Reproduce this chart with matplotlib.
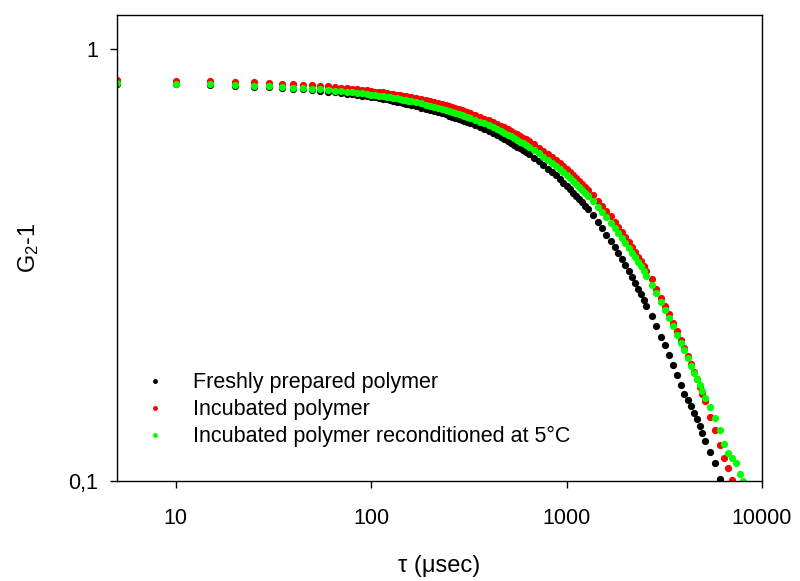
import matplotlib
matplotlib.use("Agg")
import matplotlib.pyplot as plt
from matplotlib.ticker import FixedLocator, FixedFormatter, NullLocator

plt.rcParams['font.family'] = ['Liberation Sans', 'DejaVu Sans']
plt.rcParams['mathtext.fontset'] = 'custom'
plt.rcParams['mathtext.rm'] = 'Liberation Sans'
plt.rcParams['mathtext.it'] = 'Liberation Sans'

# correlator delay times (usec)
tau = [5, 10, 15, 20, 25, 30, 35, 40, 45, 50, 55, 60, 65, 70, 75, 80,
       85, 90, 95, 100, 105, 110, 115, 120, 125, 130, 135, 140, 145, 150, 155, 160,
       170, 180, 190, 200, 210, 220, 230, 240, 250, 260, 270, 280, 290, 300, 310, 320,
       340, 360, 380, 400, 420, 440, 460, 480, 500, 520, 540, 560, 580, 600, 620, 640,
       680, 720, 760, 800, 840, 880, 920, 960, 1000, 1040, 1080, 1120, 1160, 1200, 1240, 1280,
       1360, 1440, 1520, 1600, 1680, 1760, 1840, 1920, 2000, 2080, 2160, 2240, 2320, 2400, 2480, 2560,
       2720, 2880, 3040, 3200, 3360, 3520, 3680, 3840, 4000, 4160, 4320, 4480, 4640, 4800, 4960, 5120,
       5440, 5760, 6080, 6400, 6720, 7040, 7360, 7680, 8000]

fresh = [.832, .829, .826, .823, .819, .817, .813, .810, .808, .804, .802, .798, .795, .793, .789, .787,
         .784, .781, .778, .775, .773, .770, .767, .765, .761, .759, .756, .753, .750, .748, .745, .742,
         .737, .732, .728, .723, .719, .715, .710, .706, .702, .698, .694, .690, .686, .682, .678, .675,
         .667, .660, .653, .646, .639, .632, .626, .619, .613, .607, .601, .595, .589, .583, .577, .572,
         .561, .550, .540, .529, .520, .510, .501, .491, .483, .474, .465, .458, .449, .442, .434, .426,
         .412, .398, .385, .372, .360, .349, .337, .327, .316, .307, .297, .288, .279, .271, .262, .254,
         .241, .228, .216, .206, .196, .186, .176, .167, .159, .154, .149, .144, .139, .134, .129, .124,
         .117, .110, .101, .095, .090, .085, .080, .076, .072]

incubated = [.848, .845, .843, .840, .838, .835, .832, .830, .827, .825, .822, .820, .817, .815, .812, .810,
             .808, .805, .803, .801, .798, .796, .794, .791, .789, .787, .785, .782, .780, .778, .776, .774,
             .770, .765, .761, .757, .753, .749, .745, .741, .737, .733, .730, .726, .722, .719, .715, .712,
             .704, .698, .691, .684, .678, .671, .665, .659, .652, .646, .641, .635, .629, .624, .618, .613,
             .602, .592, .582, .572, .563, .553, .544, .536, .527, .519, .511, .503, .495, .488, .480, .473,
             .459, .446, .434, .421, .410, .398, .388, .377, .367, .358, .349, .340, .331, .323, .315, .307,
             .293, .279, .266, .254, .243, .232, .222, .212, .203, .195, .187, .179, .172, .165, .159, .153,
             .141, .131, .121, .113, .107, .1005, .094, .089, .084]

recond = [.834, .831, .829, .826, .823, .821, .818, .815, .813, .810, .808, .805, .802, .800, .797, .795,
          .792, .790, .787, .785, .783, .780, .778, .776, .773, .771, .769, .766, .764, .762, .760, .757,
          .753, .749, .744, .740, .736, .732, .728, .724, .720, .716, .712, .708, .705, .701, .697, .694,
          .686, .679, .673, .666, .659, .653, .647, .640, .634, .628, .622, .617, .611, .605, .600, .595,
          .584, .574, .564, .554, .545, .536, .527, .519, .510, .502, .494, .487, .479, .472, .465, .458,
          .444, .432, .420, .408, .396, .386, .375, .366, .356, .347, .338, .330, .322, .314, .306, .299,
          .285, .272, .260, .249, .238, .228, .218, .209, .201, .193, .185, .178, .172, .167, .162, .156,
          .148, .140, .131, .122, .116, .113, .110, .104, .100]

labels = ['Freshly prepared polymer', 'Incubated polymer',
          'Incubated polymer reconditioned at 5°C']
colors = ['#000000', '#ff0000', '#00ff00']

xticks = [10, 100, 1000, 10000]
xticklabels = ['10', '100', '1000', '10000']
yticks = [0.1, 1]
yticklabels = ['0,1', '1']

fig = plt.figure(figsize=(8, 5.81), dpi=100)
ax = fig.add_axes([0.14625, 0.1721, 0.80625, 0.8021])

for ys, c, lab in zip([fresh, incubated, recond], colors, labels):
    ax.plot(tau, ys, 'o', ms=5.2, mew=0, color=c, label=lab)

ax.set_xscale('log')
ax.set_yscale('log')
ax.set_xlim(5, 10000)
ax.set_ylim(0.1, 1.2)

ax.xaxis.set_major_locator(FixedLocator(xticks))
ax.xaxis.set_major_formatter(FixedFormatter(xticklabels))
ax.xaxis.set_minor_locator(NullLocator())
ax.yaxis.set_major_locator(FixedLocator(yticks))
ax.yaxis.set_major_formatter(FixedFormatter(yticklabels))
ax.yaxis.set_minor_locator(NullLocator())

ax.tick_params(direction='out', length=4.7, width=1.0, labelsize=15.5)
ax.tick_params(axis='x', pad=14.5)
ax.tick_params(axis='y', pad=9)
for sp in ax.spines.values():
    sp.set_linewidth(1.0)

ax.set_xlabel('τ (μsec)', fontsize=17)
ax.xaxis.set_label_coords(0.5, -0.158)
ax.set_ylabel('G$_2$-1', fontsize=17)
ax.yaxis.set_label_coords(-0.118, 0.5)

ax.legend(loc='upper left', bbox_to_anchor=(0.042, 0.233), frameon=False,
          fontsize=15.5, markerscale=0.68, handlelength=1.0, handletextpad=1.25,
          labelspacing=0.27, borderpad=0, borderaxespad=0)

fig.savefig('out.png', dpi=100)
